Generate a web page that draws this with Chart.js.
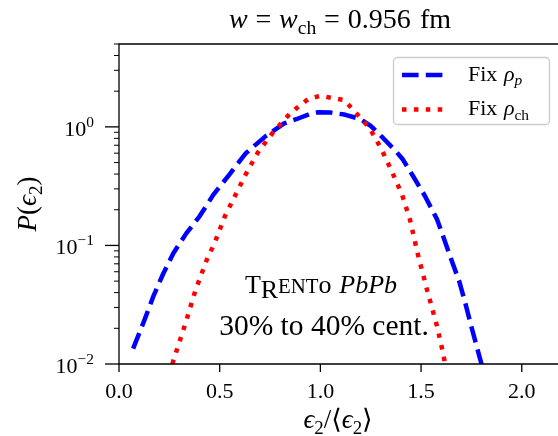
<!DOCTYPE html>
<html>
<head>
<meta charset="utf-8">
<script src="https://cdn.jsdelivr.net/npm/chart.js@4.4.1/dist/chart.umd.min.js"></script>
<style>
  html, body { margin: 0; padding: 0; background: #fff; overflow: hidden; }
  canvas { display: block; }
</style>
</head>
<body>
<canvas id="chart" width="558" height="436"></canvas>
<script>
// P(eps2) for fixed proton radius (blue, dashed)
const fixProtonX = [0.07, 0.12, 0.17, 0.22, 0.27, 0.335, 0.40, 0.47, 0.55, 0.63, 0.73, 0.82, 0.88, 0.95, 0.99, 1.05, 1.12, 1.20, 1.25, 1.31, 1.38, 1.41, 1.46, 1.52, 1.58, 1.61, 1.65, 1.69, 1.72, 1.75, 1.80, 1.82];
const fixProtonY = [0.0135, 0.022, 0.037, 0.058, 0.086, 0.127, 0.176, 0.27, 0.40, 0.60, 0.84, 1.07, 1.16, 1.29, 1.33, 1.32, 1.27, 1.16, 1.02, 0.81, 0.61, 0.53, 0.385, 0.26, 0.165, 0.119, 0.076, 0.0495, 0.0325, 0.0206, 0.0100, 0.0085];

// P(eps2) for fixed charge radius (red, dotted)
const fixChargeX = [0.25, 0.27, 0.33, 0.38, 0.435, 0.475, 0.525, 0.58, 0.63, 0.69, 0.765, 0.85, 0.94, 1.00, 1.06, 1.12, 1.16, 1.205, 1.245, 1.305, 1.355, 1.405, 1.445, 1.485, 1.53, 1.58, 1.61, 1.63];
const fixChargeY = [0.008, 0.0107, 0.022, 0.042, 0.075, 0.105, 0.175, 0.27, 0.40, 0.61, 0.90, 1.30, 1.72, 1.83, 1.75, 1.68, 1.41, 1.16, 0.975, 0.64, 0.42, 0.27, 0.165, 0.083, 0.042, 0.0206, 0.0122, 0.008];

const xTicks = [0.0, 0.5, 1.0, 1.5, 2.0];
const yTicks = [0.01, 0.1, 1];
const yTickExp = ['\u22122', '\u22121', '0'];

const SERIF = '"Liberation Serif", "DejaVu Serif", serif';
const BLUE = '#0000ff';
const RED = '#ff0000';
const blueDash = [16.6, 7.2];
const redDash = [4.5, 7.4];

// draw a run of text pieces (italic / sub / sup / gaps), like a tiny mathtext
function richText(ctx, runs, x, y, size, align) {
    const parts = runs.map(r => {
        const s = size * (r.sub || r.sup ? 0.7 : 1) * (r.scale || 1);
        const font = (r.it ? 'italic ' : '') + s + 'px ' + SERIF;
        ctx.font = font;
        const w = r.gap ? r.gap * size : ctx.measureText(r.t).width;
        const dy = r.sub ? 0.22 * size : r.sup ? -0.42 * size : (r.dy || 0) * size;
        return { t: r.t, font, w, dy };
    });
    const total = parts.reduce((a, p) => a + p.w, 0);
    let cx = align === 'center' ? x - total / 2 : align === 'right' ? x - total : x;
    ctx.textAlign = 'left';
    ctx.textBaseline = 'alphabetic';
    parts.forEach(p => {
        if (p.t) {
            ctx.font = p.font;
            ctx.fillText(p.t, cx, y + p.dy);
        }
        cx += p.w;
    });
}

function tick(ctx, x1, y1, x2, y2, w) {
    ctx.lineWidth = w;
    ctx.beginPath();
    ctx.moveTo(x1, y1);
    ctx.lineTo(x2, y2);
    ctx.stroke();
}

const mplAxes = {
    id: 'mplAxes',
    afterDraw(chart) {
        const { ctx, chartArea: a, scales: { x, y } } = chart;
        ctx.save();
        ctx.strokeStyle = '#000';
        ctx.fillStyle = '#000';
        ctx.setLineDash([]);

        // spines (right one falls outside the picture)
        ctx.lineWidth = 1.3;
        ctx.beginPath();
        ctx.moveTo(a.right + 5, a.top);
        ctx.lineTo(a.left, a.top);
        ctx.lineTo(a.left, a.bottom);
        ctx.lineTo(a.right + 5, a.bottom);
        ctx.stroke();

        // x ticks
        xTicks.forEach(v => {
            const px = x.getPixelForValue(v);
            tick(ctx, px, a.bottom, px, a.bottom + 8, 1.3);
            richText(ctx, [{ t: v.toFixed(1) }], px, 398, 22, 'center');
        });

        // y major ticks
        yTicks.forEach((v, i) => {
            const py = y.getPixelForValue(v);
            tick(ctx, a.left - 14, py, a.left, py, 1.3);
            richText(ctx, [{ t: '10' }, { t: yTickExp[i], sup: 1 }], 94, py + 9, 22, 'right');
        });

        // y minor ticks
        for (let d = -2; d <= 0; d++) {
            for (let m = 2; m <= 9; m++) {
                const v = m * Math.pow(10, d);
                if (v > y.max) break;
                const py = y.getPixelForValue(v);
                tick(ctx, a.left - 5, py, a.left, py, 1);
            }
        }

        // title
        richText(ctx, [
            { t: 'w', it: 1 }, { gap: 0.28 }, { t: '=' }, { gap: 0.28 },
            { t: 'w', it: 1 }, { t: 'ch', sub: 1 }, { gap: 0.28 }, { t: '=' }, { gap: 0.28 },
            { t: '0.956' }, { gap: 0.33 }, { t: 'fm' }
        ], 340, 28, 28, 'center');

        // x label
        richText(ctx, [
            { t: '\u03f5', it: 1 }, { t: '2', sub: 1 }, { t: '/' },
            { t: '\u27e8' }, { t: '\u03f5', it: 1 }, { t: '2', sub: 1 }, { t: '\u27e9' }
        ], 338, 428, 27, 'center');

        // y label
        ctx.save();
        ctx.translate(36, (a.top + a.bottom) / 2);
        ctx.rotate(-Math.PI / 2);
        richText(ctx, [
            { t: 'P', it: 1 }, { t: '(' }, { t: '\u03f5', it: 1 }, { t: '2', sub: 1 }, { t: ')' }
        ], 0, 0, 27, 'center');
        ctx.restore();

        // annotation
        richText(ctx, [
            { t: 'T' }, { t: 'R', dy: 0.2 }, { t: 'ENT', scale: 0.8 }, { t: 'o' },
            { gap: 0.3 }, { t: 'PbPb', it: 1 }
        ], 321, 293, 26, 'center');
        richText(ctx, [{ t: '30% to 40% cent.' }], 324, 335, 29.5, 'center');

        // legend
        const lx = 393.5, ly = 57.5, lw = 156, lh = 67;
        ctx.beginPath();
        ctx.roundRect(lx, ly, lw, lh, 4);
        ctx.fillStyle = 'rgba(255,255,255,0.8)';
        ctx.fill();
        ctx.strokeStyle = '#cccccc';
        ctx.lineWidth = 1.3;
        ctx.stroke();

        const rows = [
            { color: BLUE, dash: blueDash, y: 75, runs: [{ t: 'Fix' }, { gap: 0.3 }, { t: '\u03c1', it: 1 }, { t: 'p', it: 1, sub: 1 }] },
            { color: RED, dash: redDash, y: 109.5, runs: [{ t: 'Fix' }, { gap: 0.3 }, { t: '\u03c1', it: 1 }, { t: 'ch', sub: 1 }] }
        ];
        rows.forEach(r => {
            ctx.strokeStyle = r.color;
            ctx.lineWidth = 4.5;
            ctx.lineCap = 'butt';
            ctx.setLineDash(r.dash);
            ctx.beginPath();
            ctx.moveTo(402, r.y);
            ctx.lineTo(445, r.y);
            ctx.stroke();
            ctx.setLineDash([]);
            ctx.fillStyle = '#000';
            richText(ctx, r.runs, 468, r.y + 5.5, 22, 'left');
        });

        ctx.restore();
    }
};

const toPoints = (xs, ys) => xs.map((v, i) => ({ x: v, y: ys[i] }));

new Chart(document.getElementById('chart').getContext('2d'), {
    type: 'line',
    data: {
        datasets: [
            {
                label: 'Fix \u03c1p',
                data: toPoints(fixProtonX, fixProtonY),
                borderColor: BLUE,
                borderWidth: 4.5,
                borderDash: blueDash,
                borderCapStyle: 'butt',
                borderJoinStyle: 'round',
                pointRadius: 0,
                tension: 0,
                fill: false,
                clip: 0,
                order: 2
            },
            {
                label: 'Fix \u03c1ch',
                data: toPoints(fixChargeX, fixChargeY),
                borderColor: RED,
                borderWidth: 4.5,
                borderDash: redDash,
                borderCapStyle: 'butt',
                borderJoinStyle: 'round',
                pointRadius: 0,
                tension: 0,
                fill: false,
                clip: 0,
                order: 1
            }
        ]
    },
    options: {
        responsive: false,
        animation: false,
        devicePixelRatio: 1,
        events: [],
        layout: { padding: { left: 119, top: 44, right: 0, bottom: 72 } },
        scales: {
            x: { type: 'linear', min: 0, max: 2.18, display: false },
            y: { type: 'logarithmic', min: 0.01, max: 5, display: false }
        },
        plugins: {
            legend: { display: false },
            tooltip: { enabled: false }
        }
    },
    plugins: [mplAxes]
});
</script>
</body>
</html>
